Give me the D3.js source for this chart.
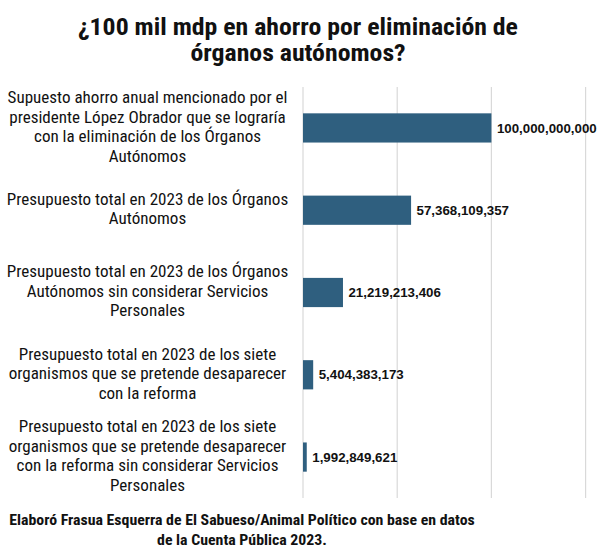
<!DOCTYPE html>
<html>
<head>
<meta charset="utf-8">
<script src="https://cdn.jsdelivr.net/npm/d3@7"></script>
<style>
  html, body { margin: 0; padding: 0; background: #ffffff; }
  svg { display: block; }
</style>
</head>
<body>
<svg id="chart" width="600" height="552"></svg>
<script>
// ---- data ----
const categories = [
  "Supuesto ahorro anual mencionado por el\npresidente López Obrador que se lograría\ncon la eliminación de los Órganos\nAutónomos",
  "Presupuesto total en 2023 de los Órganos\nAutónomos",
  "Presupuesto total en 2023 de los Órganos\nAutónomos sin considerar Servicios\nPersonales",
  "Presupuesto total en 2023 de los siete\norganismos que se pretende desaparecer\ncon la reforma",
  "Presupuesto total en 2023 de los siete\norganismos que se pretende desaparecer\ncon la reforma sin considerar Servicios\nPersonales"
];
const values = [100000000000, 57368109357, 21219213406, 5404383173, 1992849621];
const gridTicks = [0, 50000000000, 100000000000, 150000000000];
const titleLines = ["¿100 mil mdp en ahorro por eliminación de", "órganos autónomos?"];
const footerLines = ["Elaboró Frasua Esquerra de El Sabueso/Animal Político con base en datos", "de la Cuenta Pública 2023."];

const svg = d3.select("#chart");
const barColor = "#2F5F7F";
const gridColor = "#D9D9D9";
const narrow = '"Liberation Sans Narrow", "Arial Narrow", "Roboto Condensed", "DejaVu Sans Condensed", sans-serif';

const x = d3.scaleLinear().domain([0, 150000000000]).range([303, 585.6]);
const y = d3.scaleBand().domain(categories).range([87, 498]).paddingInner(0.645).paddingOuter(0.32);

// horizontally stretch a group so that a reference text node reaches a target width
function fitGroup(g, refNode, targetWidth, cx) {
  const w = refNode.getComputedTextLength();
  const sx = w > 0 ? targetWidth / w : 1;
  g.attr("transform", `translate(${cx},0) scale(${sx},1)`);
}

// gridlines
svg.append("g").selectAll("line").data(gridTicks).join("line")
  .attr("x1", d => x(d)).attr("x2", d => x(d))
  .attr("y1", 87).attr("y2", 498)
  .attr("stroke", gridColor).attr("stroke-width", 1.2);

// bars
svg.append("g").selectAll("rect").data(values).join("rect")
  .attr("x", x(0))
  .attr("y", (d, i) => y(categories[i]))
  .attr("width", d => x(d) - x(0))
  .attr("height", y.bandwidth())
  .attr("fill", barColor);

// value labels
const fmt = d3.format(",");
svg.append("g").selectAll("text").data(values).join("text")
  .attr("x", d => x(d) + 5.5)
  .attr("y", (d, i) => y(categories[i]) + y.bandwidth() / 2)
  .attr("dy", "0.35em")
  .attr("font-family", '"Liberation Sans", Arial, sans-serif')
  .attr("font-weight", "bold")
  .attr("font-size", 13.3)
  .attr("fill", "#111")
  .text(d => fmt(d));

// category labels
const lh = 19.5;
const labelG = svg.append("g");
const labels = labelG.selectAll("text").data(categories).join("text")
  .attr("text-anchor", "middle")
  .attr("font-family", narrow)
  .attr("font-size", 16.5)
  .attr("fill", "#111");
labels.each(function(c) {
  const lines = c.split("\n");
  const cy = y(c) + y.bandwidth() / 2;
  d3.select(this).selectAll("tspan").data(lines).join("tspan")
    .attr("x", 0)
    .attr("y", (l, i) => cy + 4.5 + (i - (lines.length - 1) / 2) * lh)
    .text(l => l);
});
fitGroup(labelG, labels.select("tspan").node(), 280, 147.5);

// title
const titleG = svg.append("g");
const titles = titleG.selectAll("text").data(titleLines).join("text")
  .attr("x", 0)
  .attr("y", (d, i) => 35 + i * 26.5)
  .attr("text-anchor", "middle")
  .attr("font-family", narrow)
  .attr("font-weight", "bold")
  .attr("font-size", 23)
  .attr("fill", "#111")
  .text(d => d);
fitGroup(titleG, titles.node(), 440, 298);

// footer
const footG = svg.append("g");
const foots = footG.selectAll("text").data(footerLines).join("text")
  .attr("x", 0)
  .attr("y", (d, i) => 525 + i * 20)
  .attr("text-anchor", "middle")
  .attr("font-family", narrow)
  .attr("font-weight", "bold")
  .attr("font-size", 14)
  .attr("fill", "#111")
  .text(d => d);
fitGroup(footG, foots.node(), 466, 242);
</script>
</body>
</html>
